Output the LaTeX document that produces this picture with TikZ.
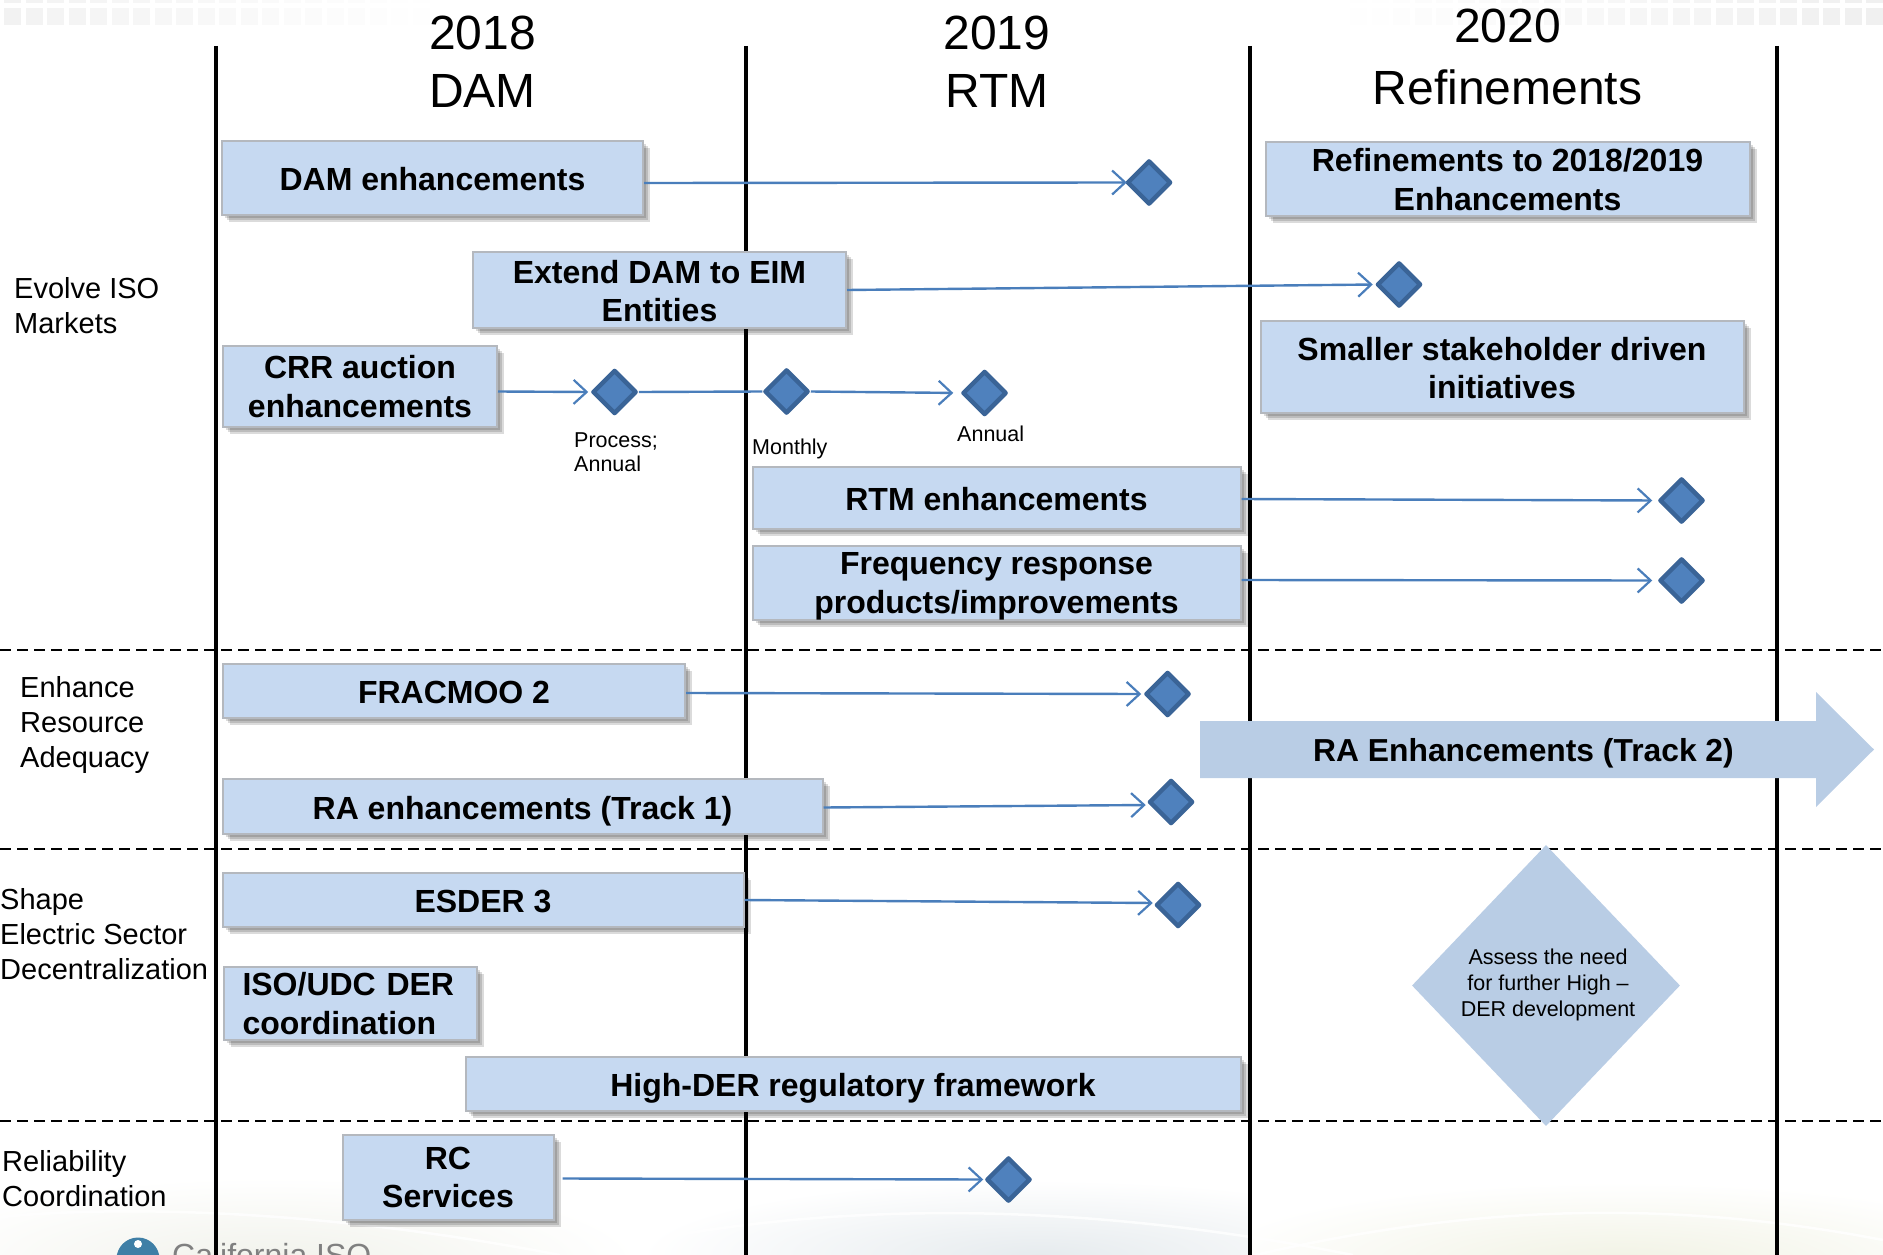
\documentclass[tikz,border=0pt]{standalone}
\usepackage{fontspec}
\setmainfont{Liberation Sans}
\usetikzlibrary{shapes.geometric,shadows,arrows.meta,calc}
\definecolor{boxfill}{HTML}{C6D9F1}
\definecolor{boxline}{HTML}{B4B8BE}
\definecolor{msfill}{HTML}{4F81BD}
\definecolor{msline}{HTML}{3A6497}
\definecolor{flowline}{HTML}{4A7EBB}
\definecolor{bigfill}{HTML}{B9CDE5}
\definecolor{washa}{HTML}{F1F2EB}
\definecolor{washb}{HTML}{E6EBEE}
\definecolor{washc}{HTML}{F1F2E4}
\definecolor{logoblue}{HTML}{3F7FA6}
\newcommand{\dn}[2]{\raisebox{0pt}[\dimexpr\height+#1\relax]{#2}}
\tikzset{
  x=1pt,y=-1pt,
  softshadow/.style={general shadow={shadow xshift=#1,shadow yshift=-#1,fill=black,opacity=.14}},
  taskbox/.style={draw=boxline,line width=2pt,fill=boxfill,inner sep=0pt,align=center,
    font=\fontsize{32}{38.5}\selectfont\bfseries,
    softshadow=3pt,softshadow=5pt,softshadow=7pt},
  milestone/.style={diamond,aspect=1,draw=msline,line width=4.5pt,line join=round,fill=msfill,
    minimum width=44pt,minimum height=44pt,inner sep=0pt},
  flow/.style={draw=flowline,line width=2.4pt},
  flowarrow/.style={flow,-{Straight Barb[length=13pt,width=24pt,line width=2.2pt]}},
  yearline/.style={line width=4.5pt,black},
  bandline/.style={line width=2pt,black,dash pattern=on 11pt off 6pt},
  headtext/.style={font=\fontsize{48}{58}\selectfont,align=center,inner sep=0pt},
  sidetext/.style={font=\fontsize{29}{35}\selectfont,align=left,inner sep=0pt,anchor=north west},
  smalltext/.style={font=\fontsize{21.5}{24.5}\selectfont,align=left,inner sep=0pt,anchor=north west},
}
\begin{document}
\begin{tikzpicture}
\useasboundingbox (0,0) rectangle (1883,1255);
\begin{scope}
\clip (0,0) rectangle (1883,1255);
% background wash, bottom
\begin{scope}
\clip (0,1100) rectangle (640,1255);
\shade[inner color=washa,outer color=white] (270,1262) ellipse (370 and 85);
\end{scope}
\begin{scope}
\clip (640,1100) rectangle (1250,1255);
\shade[inner color=washb,outer color=white] (1040,1255) ellipse (400 and 75);
\end{scope}
\begin{scope}
\clip (1250,1100) rectangle (1883,1255);
\shade[inner color=washc,outer color=white] (1620,1262) ellipse (420 and 80);
\end{scope}
\draw[white,line width=2.5pt,opacity=.8] (0,1217) .. controls (100,1207) and (300,1205) .. (560,1255);
\draw[white,line width=2.5pt,opacity=.8] (600,1250) .. controls (800,1205) and (1050,1195) .. (1353,1255);
\draw[white,line width=2.5pt,opacity=.8] (1255,1255) .. controls (1450,1210) and (1650,1195) .. (1883,1240);
% background wash, top
\foreach \i in {0,...,19} {
  \pgfmathsetmacro{\v}{5*(1-\i/20)}
  \pgfmathsetmacro{\px}{4+21.5*\i}
  \fill[black!\v] (\px,0) rectangle ++(17,3);
  \fill[black!\v] (\px,8) rectangle ++(17,17);
}
\foreach \i in {0,...,24} {
  \pgfmathsetmacro{\v}{6*(1-\i/25)}
  \pgfmathsetmacro{\px}{1866-21.5*\i}
  \fill[black!\v] (\px,0) rectangle ++(17,3);
  \fill[black!\v] (\px,8) rectangle ++(17,17);
}
% logo
\fill[logoblue] (138,1259) circle (21.5);
\fill[white] (138,1244) circle (4);
\node[anchor=base west,inner sep=0pt,text=black!50,font=\fontsize{32}{38}\selectfont] (logo) at (172,1266) {California ISO};
\end{scope}

% lines
\foreach \yy in {650,849,1120.5} \draw[bandline] (0,\yy) -- (1883,\yy);
\foreach \xx in {216,746,1250,1777} \draw[yearline] (\xx,46) -- (\xx,1255);

% headers
\node[headtext] (h1) at (482.5,61.5) {2018\\DAM};
\node[headtext] (h2) at (997,61.5) {2019\\RTM};
\node[headtext] (h3) at (1507.5,57) {2020\\[4pt]Refinements};

% side labels
\node[sidetext] (s1) at (14,277) {Evolve ISO\\Markets};
\node[sidetext] (s2) at (20,676) {Enhance\\Resource\\Adequacy};
\node[sidetext] (s3) at (0,888) {Shape\\Electric Sector\\Decentralization};
\node[sidetext] (s4) at (2,1150) {Reliability\\Coordination};

% boxes
\node[taskbox,minimum width=421pt,minimum height=74pt] (dam) at (432.5,178) {\dn{2pt}{DAM enhancements}};
\node[taskbox,minimum width=373pt,minimum height=76pt] (ext) at (659.5,290) {\dn{2pt}{Extend DAM to EIM}\\Entities};
\node[taskbox,minimum width=274pt,minimum height=81pt] (crr) at (360,386.5) {CRR auction\\enhancements};
\node[taskbox,minimum width=484pt,minimum height=74pt] (ref) at (1507.5,178.5) {\dn{2pt}{Refinements to 2018/2019}\\Enhancements};
\node[taskbox,minimum width=483pt,minimum height=92pt] (small) at (1502,367) {\dn{2pt}{Smaller stakeholder driven}\\initiatives};
\node[taskbox,minimum width=488pt,minimum height=62pt] (rtm) at (996.5,498) {\dn{2pt}{RTM enhancements}};
\node[taskbox,minimum width=488pt,minimum height=74pt] (freq) at (996.5,583) {\dn{7pt}{Frequency response}\\products/improvements};
\node[taskbox,minimum width=462pt,minimum height=54pt] (frac) at (454,691) {\dn{2pt}{FRACMOO 2}};
\node[taskbox,minimum width=600pt,minimum height=55pt] (ra1) at (522.5,806.5) {\dn{10pt}{RA enhancements (Track 1)}};
\node[taskbox,minimum width=521pt,minimum height=54pt] (esder) at (483,900) {\dn{2pt}{ESDER 3}};
\node[taskbox,minimum width=253pt,minimum height=73pt,align=left,text width=215pt] (udc) at (350,1003.5) {ISO/UDC DER\\coordination};
\node[taskbox,minimum width=775pt,minimum height=54pt] (high) at (853,1084) {\dn{8pt}{High-DER regulatory framework}};
\node[taskbox,minimum width=211pt,minimum height=85pt] (rc) at (448,1177.5) {RC\\Services};

% milestones
\node[milestone] (m1) at (1149,182.5) {};
\node[milestone] (m2) at (1399,284.5) {};
\node[milestone] (m3) at (614.5,392) {};
\node[milestone] (m4) at (786.5,391.5) {};
\node[milestone] (m5) at (984.5,393) {};
\node[milestone] (m6) at (1681.5,500.5) {};
\node[milestone] (m7) at (1681.5,580.5) {};
\node[milestone] (m8) at (1167.5,694) {};
\node[milestone] (m9) at (1171,802) {};
\node[milestone] (m10) at (1178,905) {};
\node[milestone] (m11) at (1008.5,1179.5) {};

% connectors
\draw[flowarrow,shorten >=-2pt] ([yshift=-5pt]dam.east) -- (m1.west);
\draw[flowarrow,shorten >=2pt] (ext.east) -- (m2.west);
\draw[flowarrow,shorten >=2pt] ([yshift=-5pt]crr.east) -- (m3.west);
\draw[flow] (m3.east) -- (m4.west);
\draw[flowarrow,shorten >=7pt] (m4.east) -- (m5.west);
\draw[flowarrow,shorten >=5pt] ([yshift=-1pt]rtm.east) -- (m6.west);
\draw[flowarrow,shorten >=5pt] ([yshift=3pt]freq.east) -- (m7.west);
\draw[flowarrow,shorten >=2pt] ([yshift=-2pt]frac.east) -- (m8.west);
\draw[flowarrow,shorten >=1pt] ([yshift=-1pt]ra1.east) -- ([yshift=-3pt]m9.west);
\draw[flowarrow,shorten >=1pt] (esder.east) -- ([yshift=2pt]m10.west);
\draw[flowarrow,shorten >=1pt] ([xshift=8pt,yshift=-1pt]rc.east) -- (m11.west);

% milestone labels
\node[smalltext] (l1) at (574,432.5) {Process;\\Annual};
\node[smalltext] (l2) at (752,438.5) {Monthly};
\node[smalltext] (l3) at (957,425.5) {Annual};

% big shapes
\fill[bigfill] (1200,721) -- (1816,721) -- (1816,692) -- (1874,749.5) -- (1816,807) -- (1816,778) -- (1200,778) -- cycle;
\node[inner sep=0pt,font=\fontsize{31.8}{38}\selectfont\bfseries] (ra2) at (1523.5,753) {RA Enhancements (Track 2)};
\node[diamond,fill=bigfill,minimum width=268pt,minimum height=281pt,inner sep=0pt,aspect=1] (assess) at (1546,985.5) {};
\node[inner sep=0pt,align=center,font=\fontsize{21.5}{26}\selectfont] (assesst) at (1548,985) {Assess the need\\for further High --\\DER development};
\end{tikzpicture}
\end{document}
